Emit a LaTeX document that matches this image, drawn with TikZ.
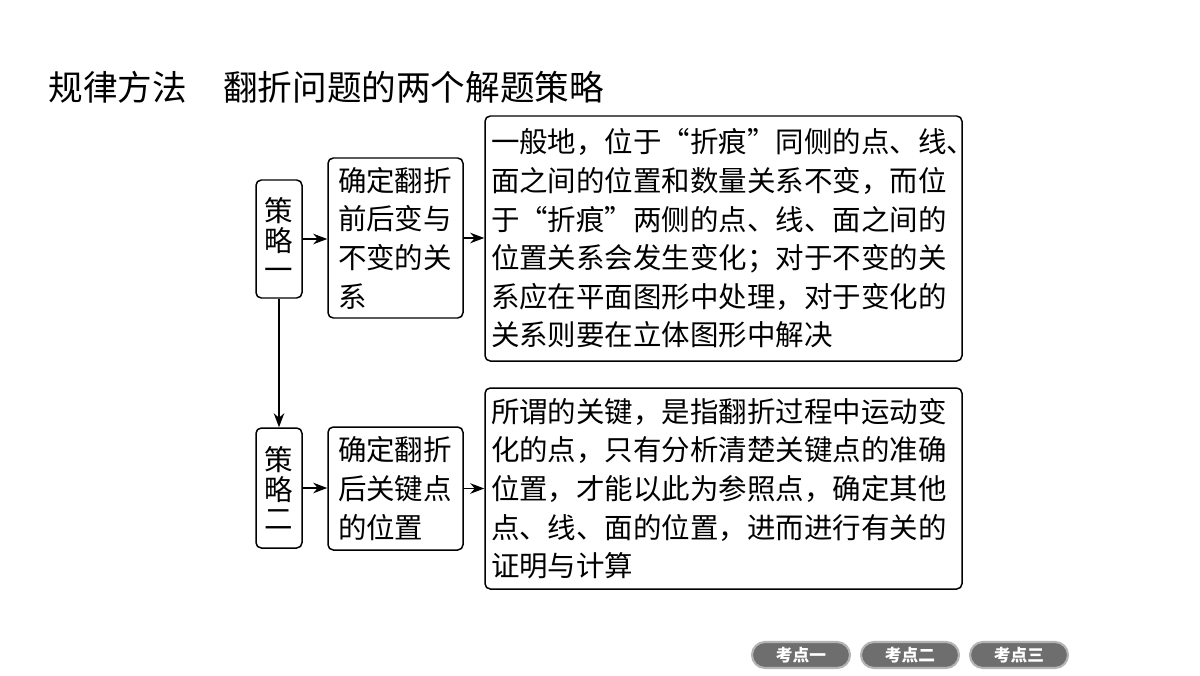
\documentclass[tikz,border=0pt]{standalone}
\usepackage{fontspec}
\usepackage{xcolor}
\usepackage{tikz}
\usetikzlibrary{arrows.meta}
\setmainfont{Noto Sans CJK SC}
\definecolor{btnfill}{HTML}{6E6E6E}
\definecolor{btnline}{HTML}{B4B4B4}
\begin{document}
\begin{tikzpicture}[>={Stealth[length=8pt,width=6pt]}, line width=0.85pt,
  every node/.style={font=\fontsize{16.2}{22}\selectfont},
  box/.style={draw, rounded corners=3pt, inner sep=0pt},
  side/.style={box, minimum width=0.92cm, align=center, font=\fontsize{16.2}{17}\selectfont},
  mid/.style={box, minimum width=2.7cm, text width=2.3cm, inner xsep=0.2cm, align=left},
  big/.style={box, minimum width=9.54cm, text width=9.3cm, inner xsep=0.12cm, align=left},
  btn/.style={fill=btnfill, draw=btnline, line width=1.2pt, rounded corners=0.26cm, minimum width=1.96cm, minimum height=0.52cm, inner sep=0pt, text=white, font=\fontsize{9.5}{10}\selectfont\bfseries}]
  \useasboundingbox (0,0) rectangle (24,13.5);
  \node[anchor=west, inner sep=0pt, font=\fontsize{19.7}{22}\selectfont] (title) at (0.96,11.76) {规律方法\hspace{0.72cm}翻折问题的两个解题策略};
  \node[side, minimum height=2.36cm] (s1) at (5.58,8.72) {策\\略\\一};
  \node[side, minimum height=2.4cm] (s2) at (5.58,3.74) {策\\略\\二};
  \node[mid, minimum height=3.2cm] (m1) at (7.91,8.74) {确定翻折\\前后变与\\不变的关\\系};
  \node[mid, minimum height=2.46cm] (m2) at (7.91,3.73) {确定翻折\\后关键点\\的位置};
  \node[big, minimum height=4.9cm] (b1) at (14.47,8.73) {一般地，位于“折痕”同侧的点、线、\\面之间的位置和数量关系不变，而位\\于“折痕”两侧的点、线、面之间的\\位置关系会发生变化；对于不变的关\\系应在平面图形中处理，对于变化的\\关系则要在立体图形中解决};
  \node[big, minimum height=4.02cm] (b2) at (14.47,3.73) {所谓的关键，是指翻折过程中运动变\\化的点，只有分析清楚关键点的准确\\位置，才能以此为参照点，确定其他\\点、线、面的位置，进而进行有关的\\证明与计算};
  \draw[->] (s1.east) -- (s1.east -| m1.west);
  \draw[->] (m1.east) -- (m1.east -| b1.west);
  \draw[->] (s2.east) -- (s2.east -| m2.west);
  \draw[->] (m2.east) -- (m2.east -| b2.west);
  \draw[->] (s1.south) -- (s2.north);
  \node[btn] (k1) at (16.02,0.4) {考点一};
  \node[btn] (k2) at (18.20,0.4) {考点二};
  \node[btn] (k3) at (20.38,0.4) {考点三};
\end{tikzpicture}
\end{document}
